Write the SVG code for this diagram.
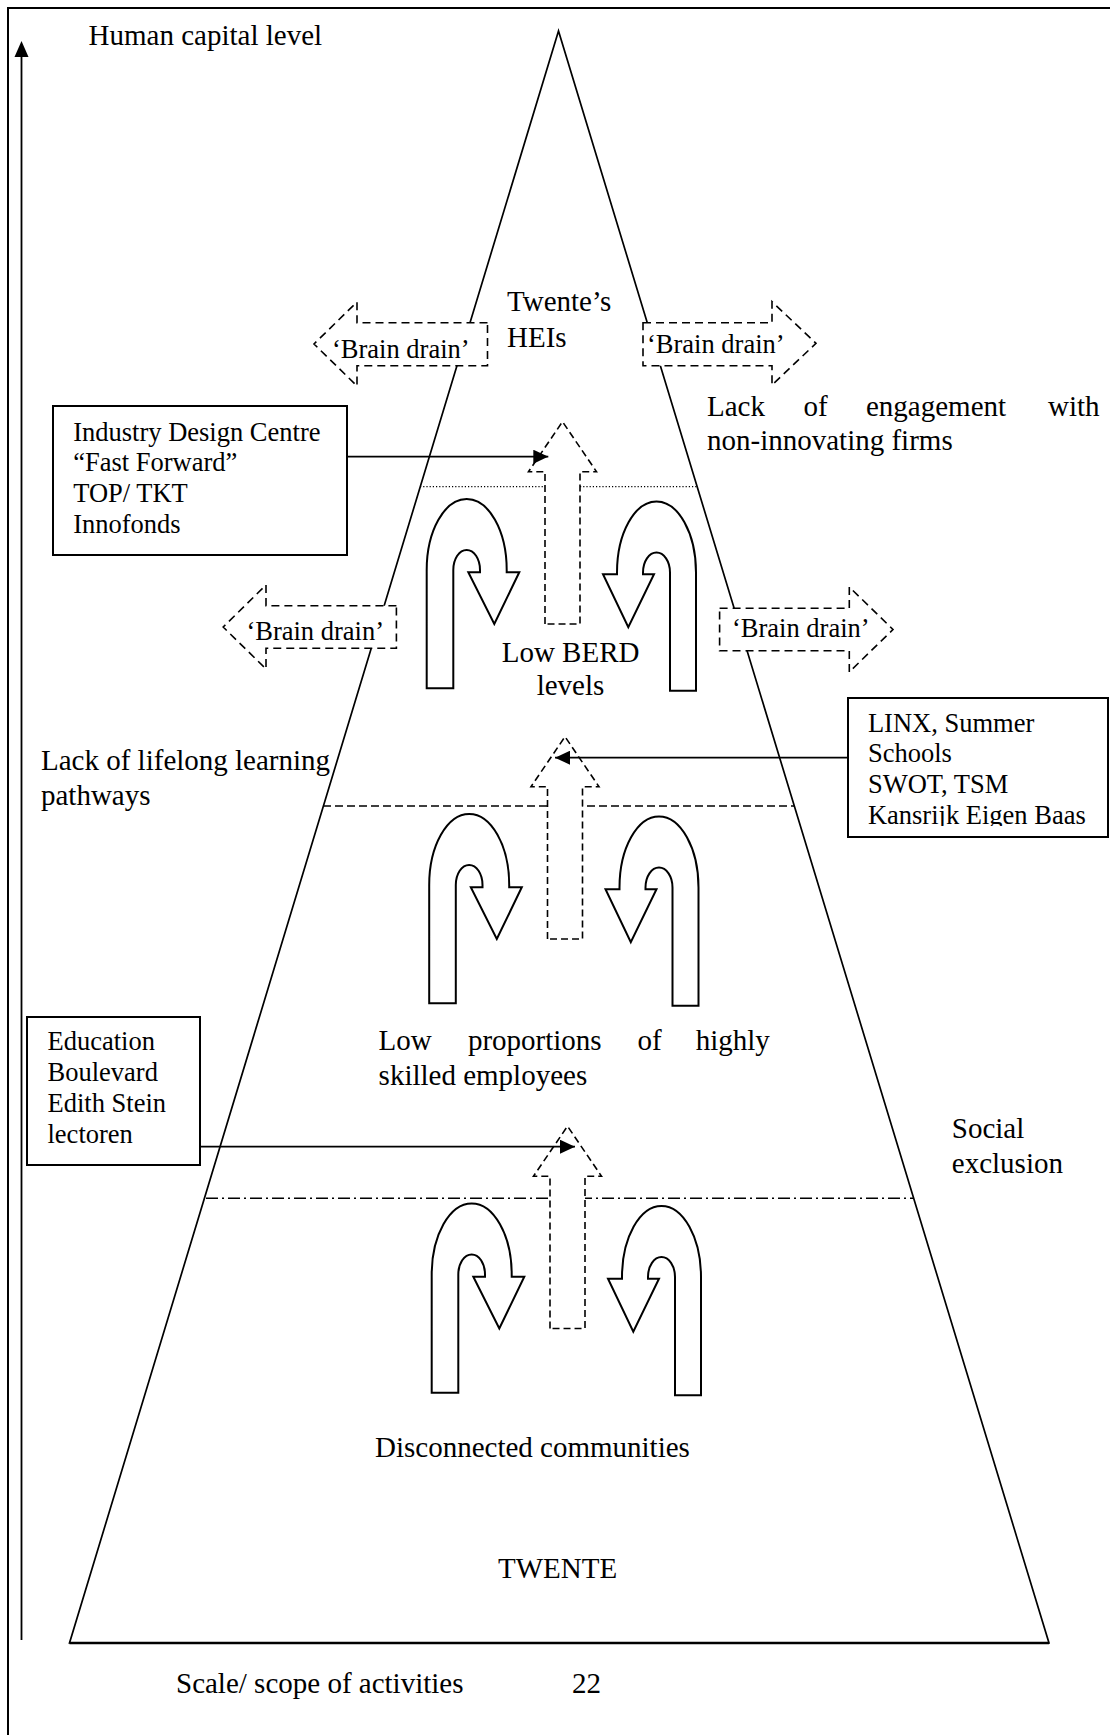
<svg xmlns="http://www.w3.org/2000/svg" width="1110" height="1735" viewBox="0 0 1110 1735">
<defs>
<style>
text { font-family: "Liberation Serif", "Times New Roman", serif; fill: #000; }
.t { font-size: 29px; }
.s { font-size: 26.5px; }
.solid { fill: none; stroke: #000; stroke-width: 1.7; }
.box { fill: #fff; stroke: #000; stroke-width: 2; }
.uturn { fill: #fff; stroke: #000; stroke-width: 2; stroke-linejoin: miter; }
.dup { fill: #fff; stroke: #000; stroke-width: 1.6; stroke-dasharray: 7 4; }
.bd { fill: #fff; stroke: #000; stroke-width: 1.6; stroke-dasharray: 8 5; }
.conn { fill: none; stroke: #000; stroke-width: 1.8; marker-end: url(#ah); }
</style>
<marker id="ah" viewBox="0 0 15 14" refX="15" refY="7" markerWidth="15" markerHeight="14" markerUnits="userSpaceOnUse" orient="auto"><path d="M0,0 L15,7 L0,14 Z" fill="#000"/></marker>
<clipPath id="linxclip"><rect x="849" y="699" width="258" height="127"/></clipPath>
</defs>

<g id="frame">
<path d="M1110,8 H8 V1735" fill="none" stroke="#000" stroke-width="2"/>
</g>

<g id="axis">
<line x1="21.5" y1="1640" x2="21.5" y2="54" stroke="#000" stroke-width="1.8"/>
<polygon points="21.5,41 14.5,57 28.5,57" fill="#000"/>
<text class="t" x="88.6" y="45">Human capital level</text>
</g>

<g id="pyramid">
<polygon points="558.5,31 69.5,1643 1049,1643" class="solid"/>
<line x1="69.5" y1="1643" x2="1049" y2="1643" stroke="#000" stroke-width="2.6"/>
</g>

<g id="levels">
<line x1="420" y1="486.7" x2="697" y2="486.7" stroke="#000" stroke-width="1.3" stroke-dasharray="1.2 2"/>
<line x1="323" y1="806" x2="794" y2="806" stroke="#000" stroke-width="1.6" stroke-dasharray="8 4"/>
<line x1="206" y1="1198.3" x2="913" y2="1198.3" stroke="#000" stroke-width="1.6" stroke-dasharray="12 4 2 4"/>
</g>

<g id="tier1">
<path class="dup" d="M545,624 V471.7 H528.5 L562.5,421.7 L596.5,471.7 H580 V624 Z"/>
<path class="uturn" d="M426.7,688.3 V570 A40,71 0 0 1 506.7,570 V572.3 H519.3 L494.3,624 L468.3,572.3 H480 V570 A13.3,20 0 0 0 453.3,570 V688.3 Z"/>
<path class="uturn" d="M696,690.7 V572.5 A39.5,71 0 0 0 617,572.5 V574.3 H603 L628.3,627.3 L654,574.3 H643 V572.5 A13.5,20 0 0 1 670,572.5 V690.7 Z"/>
</g>

<g id="tier2" transform="translate(2.5,315)">
<path class="dup" d="M545,624 V471.7 H528.5 L562.5,421.7 L596.5,471.7 H580 V624 Z"/>
<path class="uturn" d="M426.7,688.3 V570 A40,71 0 0 1 506.7,570 V572.3 H519.3 L494.3,624 L468.3,572.3 H480 V570 A13.3,20 0 0 0 453.3,570 V688.3 Z"/>
<path class="uturn" d="M696,690.7 V572.5 A39.5,71 0 0 0 617,572.5 V574.3 H603 L628.3,627.3 L654,574.3 H643 V572.5 A13.5,20 0 0 1 670,572.5 V690.7 Z"/>
</g>

<g id="tier3" transform="translate(5,704.5)">
<path class="dup" d="M545,624 V471.7 H528.5 L562.5,421.7 L596.5,471.7 H580 V624 Z"/>
<path class="uturn" d="M426.7,688.3 V570 A40,71 0 0 1 506.7,570 V572.3 H519.3 L494.3,624 L468.3,572.3 H480 V570 A13.3,20 0 0 0 453.3,570 V688.3 Z"/>
<path class="uturn" d="M696,690.7 V572.5 A39.5,71 0 0 0 617,572.5 V574.3 H603 L628.3,627.3 L654,574.3 H643 V572.5 A13.5,20 0 0 1 670,572.5 V690.7 Z"/>
</g>

<g id="connectors">
<path class="conn" d="M347,456.7 H548.3"/>
<path class="conn" d="M848,757.7 H555"/>
<path class="conn" d="M200,1146.7 H575"/>
</g>

<g id="box-idc">
<rect class="box" x="53" y="406" width="294" height="149"/>
<text class="s" x="73.2" y="441">Industry Design Centre</text>
<text class="s" x="73.2" y="471">“Fast Forward”</text>
<text class="s" x="73.2" y="501.7">TOP/ TKT</text>
<text class="s" x="73.2" y="532.7">Innofonds</text>
</g>

<g id="box-linx">
<rect class="box" x="848" y="698" width="260" height="139"/>
<g clip-path="url(#linxclip)">
<text class="s" x="867.9" y="731.7">LINX, Summer</text>
<text class="s" x="867.9" y="761.7">Schools</text>
<text class="s" x="867.9" y="793.3">SWOT, TSM</text>
<text class="s" x="867.9" y="824">Kansrijk Eigen Baas</text>
</g>
</g>

<g id="box-edu">
<rect class="box" x="27" y="1017" width="173" height="148"/>
<text class="s" x="47.5" y="1050">Education</text>
<text class="s" x="47.5" y="1080.7">Boulevard</text>
<text class="s" x="47.5" y="1111.7">Edith Stein</text>
<text class="s" x="47.5" y="1142.7">lectoren</text>
</g>

<g id="brain-drain-tl">
<path class="bd" d="M487.5,322.7 H357 V302 L314,344 L357,386 V365.7 H487.5 Z"/>
<text class="s" x="332" y="358">‘Brain drain’</text>
</g>
<g id="brain-drain-tr">
<path class="bd" d="M643,322.7 H772 V301.7 L816,343.3 L772,385 V365.7 H643 Z"/>
<text class="s" x="647" y="352.7">‘Brain drain’</text>
</g>
<g id="brain-drain-ml">
<path class="bd" d="M396.4,605.7 H266 V585 L223.2,627 L266,669 V648.3 H396.4 Z"/>
<text class="s" x="246.4" y="640">‘Brain drain’</text>
</g>
<g id="brain-drain-mr">
<path class="bd" d="M719.6,608.3 H849.3 V587 L893,629.5 L849.3,672 V650.7 H719.6 Z"/>
<text class="s" x="732" y="637.3">‘Brain drain’</text>
</g>

<g id="labels">
<text class="t" x="507" y="311">Twente’s</text>
<text class="t" x="507" y="346.5">HEIs</text>
<text class="t" x="707" y="416">Lack</text>
<text class="t" x="803.6" y="416">of</text>
<text class="t" x="866" y="416">engagement</text>
<text class="t" x="1048" y="416">with</text>
<text class="t" x="707" y="450">non-innovating firms</text>
<text class="t" x="501.7" y="661.7">Low BERD</text>
<text class="t" x="536.7" y="695">levels</text>
<text class="t" x="41" y="770">Lack of lifelong learning</text>
<text class="t" x="41" y="805">pathways</text>
<text class="t" x="378.6" y="1050">Low</text>
<text class="t" x="467.9" y="1050">proportions</text>
<text class="t" x="637.5" y="1050">of</text>
<text class="t" x="695.7" y="1050">highly</text>
<text class="t" x="378.6" y="1085">skilled employees</text>
<text class="t" x="951.8" y="1138.3">Social</text>
<text class="t" x="951.8" y="1172.7">exclusion</text>
<text class="t" x="375" y="1457">Disconnected communities</text>
<text class="t" x="498" y="1578">TWENTE</text>
<text class="t" x="176" y="1693">Scale/ scope of activities</text>
<text class="t" x="572" y="1693">22</text>
</g>
</svg>
